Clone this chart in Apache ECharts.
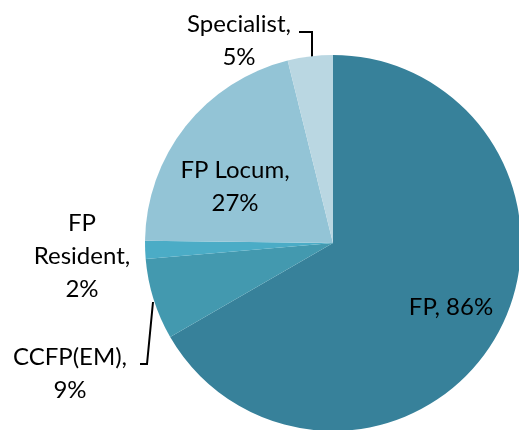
<!DOCTYPE html>
<html><head><meta charset="utf-8">
<script src="https://cdn.jsdelivr.net/npm/echarts@6/dist/echarts.min.js"></script>
<style>html,body{margin:0;padding:0;background:#fff}#c{width:519px;height:430px}</style>
</head><body><div id="c"></div>
<script>
var categories = ['FP', 'CCFP(EM)', 'FP Resident', 'FP Locum', 'Specialist'];
var values = [86, 9, 2, 27, 5];
var labelTexts = ['FP, 86%', 'CCFP(EM),\n9%', 'FP\nResident,\n2%', 'FP Locum,\n27%', 'Specialist,\n5%'];
var colors = ['#37819A', '#4399AF', '#4BACC6', '#93C4D6', '#BAD7E2'];

var labelPos = [[451, 307], [70, 374], [82, 256], [235, 187], [239, 41]];
var linePts = [null, [[153, 302], [147, 364], [140, 364]], null, null, [[312, 57], [312, 32], [299, 32]]];
var showLine = [false, true, false, false, true];
var labelPlace = ['inside', 'outside', 'outside', 'inside', 'outside'];

var chart = echarts.init(document.getElementById('c'), null, {renderer: 'canvas'});
var data = categories.map(function (c, i) {
  return {
    name: c, value: values[i],
    itemStyle: {color: colors[i]},
    label: {formatter: labelTexts[i], position: labelPlace[i]},
    labelLine: {show: showLine[i]}
  };
});
chart.setOption({
  animation: false,
  series: [{
    type: 'pie',
    center: [333, 243],
    radius: 188,
    startAngle: 90,
    clockwise: true,
    avoidLabelOverlap: false,
    data: data,
    emphasis: {disabled: true},
    label: {
      show: true,
      color: '#000',
      fontFamily: 'Lato',
      fontSize: 24,
      lineHeight: 33,
      align: 'center'
    },
    labelLine: {lineStyle: {color: '#000', width: 2}, length: 10, length2: 10},
    labelLayout: function (p) {
      var i = p.dataIndex;
      var r = {x: labelPos[i][0], y: labelPos[i][1], align: 'center', verticalAlign: 'middle'};
      if (linePts[i]) r.labelLinePoints = linePts[i];
      return r;
    }
  }]
});
</script></body></html>
